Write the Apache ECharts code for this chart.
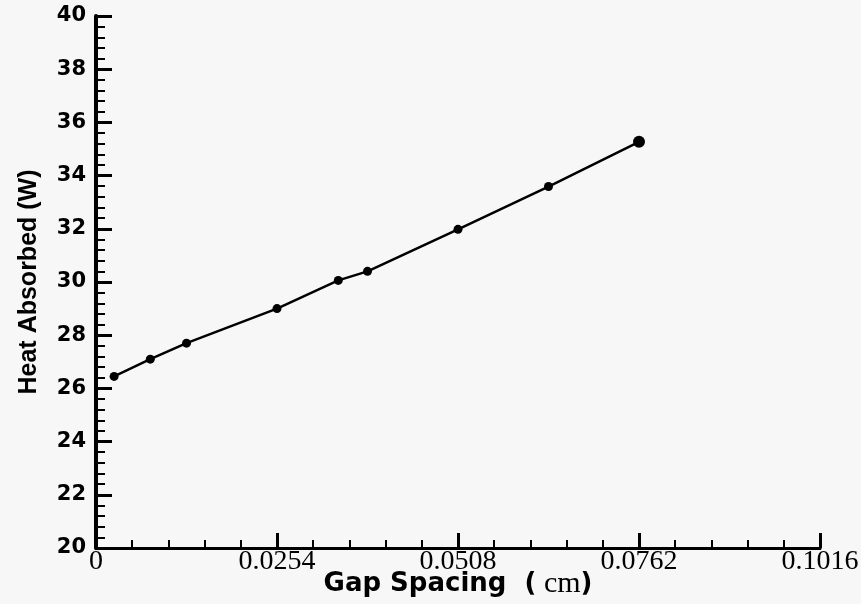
<!DOCTYPE html>
<html>
<head>
<meta charset="utf-8">
<script src="https://cdn.jsdelivr.net/npm/echarts@6/dist/echarts.min.js"></script>
<style>
html,body{margin:0;padding:0;background:#f7f7f7;}
#c{width:861px;height:604px;}
</style>
</head>
<body>
<div id="c"></div>
<script>
// Data
var gapSpacing = [0.00254, 0.00762, 0.0127, 0.0254, 0.034, 0.0381, 0.0508, 0.0635, 0.0762];
var heatAbsorbed = [26.45, 27.10, 27.70, 29.00, 30.06, 30.40, 31.98, 33.59, 35.27];
var xTickLabels = ['0', '0.0254', '0.0508', '0.0762', '0.1016'];
var yTickLabels = ['20', '22', '24', '26', '28', '30', '32', '34', '36', '38', '40'];

var pts = gapSpacing.map(function (x, i) {
  var p = { value: [x, heatAbsorbed[i]] };
  if (i === gapSpacing.length - 1) p.symbolSize = 12;
  return p;
});

var chart = echarts.init(document.getElementById('c'), null, { renderer: 'canvas' });
chart.setOption({
  backgroundColor: '#f7f7f7',
  animation: false,
  grid: { left: 96, right: 41, top: 16, bottom: 56, containLabel: false, outerBoundsMode: 'none' },
  xAxis: {
    type: 'value',
    min: 0,
    max: 0.1016,
    interval: 0.0254,
    splitLine: { show: false },
    axisLine: { lineStyle: { color: '#000', width: 3 } },
    axisTick: { inside: true, length: 15, lineStyle: { color: '#000', width: 3 } },
    minorTick: { show: true, splitNumber: 5, length: 8, lineStyle: { color: '#000', width: 2 } },
    axisLabel: {
      color: '#000', fontFamily: 'Liberation Serif', fontSize: 28, margin: 0,
      formatter: function (v, i) { return xTickLabels[i]; }
    },
    name: '{b|Gap Spacing  (}{s| cm}{b|)}',
    nameLocation: 'middle',
    nameGap: 21,
    nameMoveOverlap: false,
    nameTextStyle: {
      rich: {
        b: { fontFamily: 'DejaVu Sans', fontWeight: 'bold', fontSize: 26, color: '#000' },
        s: { fontFamily: 'Liberation Serif', fontSize: 30, color: '#000' }
      }
    }
  },
  yAxis: {
    type: 'value',
    min: 20,
    max: 40,
    interval: 2,
    splitLine: { show: false },
    axisLine: { lineStyle: { color: '#000', width: 4 } },
    axisTick: { inside: true, length: 16, lineStyle: { color: '#000', width: 3 } },
    minorTick: { show: true, splitNumber: 5, length: 9, lineStyle: { color: '#000', width: 2 } },
    axisLabel: {
      color: '#000', fontFamily: 'DejaVu Sans', fontWeight: 'bold', fontSize: 21, margin: 10,
      formatter: function (v, i) { return yTickLabels[i]; }
    },
    name: 'Heat Absorbed (W)',
    nameLocation: 'middle',
    nameGap: 54,
    nameMoveOverlap: false,
    nameTextStyle: { fontFamily: 'Liberation Sans', fontWeight: 'bold', fontSize: 25, color: '#000' }
  },
  series: [{
    type: 'line',
    data: pts,
    symbol: 'circle',
    symbolSize: 9,
    itemStyle: { color: '#000' },
    lineStyle: { color: '#000', width: 2.5 }
  }]
});
</script>
</body>
</html>
